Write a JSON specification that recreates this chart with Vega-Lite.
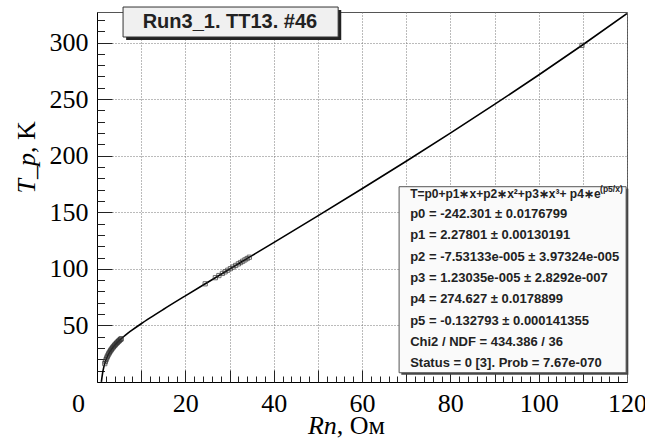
{
  "$schema": "https://vega.github.io/schema/vega-lite/v6.json",
  "width": 530,
  "height": 370,
  "autosize": {"type": "none"},
  "padding": {"left": 97, "top": 12, "right": 18, "bottom": 57},
  "background": "white",
  "config": {
    "view": {"stroke": "#555", "strokeWidth": 1},
    "axis": {"labelFont": "Liberation Serif", "labelFontSize": 26, "labelColor": "black", "domainColor": "black", "tickColor": "#222", "labelOverlap": false, "labelFlush": false}
  },
  "datasets": {
    "curve": [
      {"x": 0.99, "T": 0.1}, {"x": 1.25, "T": 7.49}, {"x": 1.5, "T": 12.48}, {"x": 1.75, "T": 16.24},
      {"x": 2, "T": 19.24}, {"x": 2.5, "T": 23.81}, {"x": 3, "T": 27.27}, {"x": 3.5, "T": 30.08},
      {"x": 4, "T": 32.47}, {"x": 4.5, "T": 34.59}, {"x": 5, "T": 36.52}, {"x": 6, "T": 39.98},
      {"x": 7, "T": 43.11}, {"x": 8, "T": 46.03}, {"x": 10, "T": 51.49}, {"x": 12, "T": 56.65},
      {"x": 15, "T": 64.10}, {"x": 20, "T": 76.14}, {"x": 25, "T": 87.97}, {"x": 30, "T": 99.72},
      {"x": 35, "T": 111.45}, {"x": 40, "T": 123.20}, {"x": 50, "T": 146.85}, {"x": 60, "T": 170.79},
      {"x": 70, "T": 195.12}, {"x": 80, "T": 219.93}, {"x": 90, "T": 245.30}, {"x": 100, "T": 271.31},
      {"x": 110, "T": 298.04}, {"x": 120, "T": 325.56}
    ],
    "points": [
      {"x": 1.75, "T": 16.24}, {"x": 1.9, "T": 18.12}, {"x": 2.05, "T": 19.77}, {"x": 2.2, "T": 21.25},
      {"x": 2.35, "T": 22.59}, {"x": 2.5, "T": 23.81}, {"x": 2.65, "T": 24.94}, {"x": 2.8, "T": 25.98},
      {"x": 2.95, "T": 26.96}, {"x": 3.1, "T": 27.87}, {"x": 3.25, "T": 28.74}, {"x": 3.4, "T": 29.55},
      {"x": 3.55, "T": 30.33}, {"x": 3.7, "T": 31.07}, {"x": 3.85, "T": 31.79}, {"x": 4.0, "T": 32.47},
      {"x": 4.15, "T": 33.13}, {"x": 4.3, "T": 33.77}, {"x": 4.45, "T": 34.39}, {"x": 4.6, "T": 34.99},
      {"x": 4.75, "T": 35.58}, {"x": 4.9, "T": 36.15}, {"x": 5.05, "T": 36.70}, {"x": 5.2, "T": 37.25},
      {"x": 5.35, "T": 37.78}, {"x": 5.5, "T": 38.30},
      {"x": 24.5, "T": 86.79}, {"x": 26.8, "T": 92.20}, {"x": 27.6, "T": 94.08}, {"x": 28.4, "T": 95.96},
      {"x": 29.0, "T": 97.37}, {"x": 29.6, "T": 98.78}, {"x": 30.2, "T": 100.19}, {"x": 30.8, "T": 101.60},
      {"x": 31.4, "T": 103.00}, {"x": 32.0, "T": 104.41}, {"x": 32.5, "T": 105.58}, {"x": 33.0, "T": 106.76},
      {"x": 33.5, "T": 107.93}, {"x": 34.0, "T": 109.11}, {"x": 34.5, "T": 110.28},
      {"x": 109.8, "T": 297.5}
    ],
    "titlebox": [{"t": "Run3_1. TT13. #46"}],
    "formula": [{"t": "T=p0+p1∗x+p2∗x²+p3∗x³+ p4∗e", "sup": "(p5/x)"}],
    "stats": [{"lines": ["p0 = -242.301 ± 0.0176799", "p1 = 2.27801 ± 0.00130191", "p2 = -7.53133e-005  ± 3.97324e-005", "p3 = 1.23035e-005  ± 2.8292e-007", "p4 = 274.627  ± 0.0178899", "p5 = -0.132793  ± 0.000141355", "Chi2 / NDF = 434.386 / 36", "Status = 0 [3]. Prob = 7.67e-070"]}],
    "xtitle": [{"a": "Rn", "b": ", Ом"}],
    "ytitle": [{"a": "T_p", "b": ", K"}]
  },
  "layer": [
    {
      "data": {"name": "curve"},
      "mark": {"type": "line", "color": "black", "strokeWidth": 1.6, "interpolate": "monotone", "clip": true},
      "encoding": {
        "x": {"field": "x", "type": "quantitative", "scale": {"domain": [0, 120], "nice": false, "zero": false},
          "axis": {"orient": "bottom", "title": null, "values": [0, 10, 20, 30, 40, 50, 60, 70, 80, 90, 100, 110, 120],
            "labelExpr": "datum.value % 20 === 0 ? datum.label : ''", "ticks": false, "grid": true, "gridDash": [1, 2], "gridColor": "#777", "gridWidth": 1,
            "labelPadding": 8, "labelOffset": {"condition": {"test": "datum.value === 0", "value": -19}, "value": 0}}},
        "y": {"field": "T", "type": "quantitative", "scale": {"domain": [0, 327], "nice": false, "zero": false},
          "axis": {"orient": "left", "title": null, "values": [0, 50, 100, 150, 200, 250, 300],
            "labelExpr": "datum.value === 0 ? '' : datum.label", "ticks": false, "grid": true, "gridDash": [1, 2], "gridColor": "#777", "gridWidth": 1,
            "labelPadding": 9}}
      }
    },
    {
      "data": {"name": "points"},
      "mark": {"type": "point", "shape": "square", "filled": false, "size": 18, "stroke": "#333", "strokeWidth": 1},
      "encoding": {
        "x": {"field": "x", "type": "quantitative", "scale": {"domain": [0, 120], "nice": false, "zero": false},
          "axis": {"orient": "bottom", "title": null, "values": [10, 20, 30, 40, 50, 60, 70, 80, 90, 100, 110], "labels": false, "grid": false, "domain": false, "ticks": true, "tickSize": 12, "offset": -12}},
        "y": {"field": "T", "type": "quantitative", "scale": {"domain": [0, 327], "nice": false, "zero": false},
          "axis": {"orient": "left", "title": null, "values": [50, 100, 150, 200, 250, 300], "labels": false, "grid": false, "domain": false, "ticks": true, "tickSize": 15, "offset": -15}}
      }
    },
    {
      "data": {"name": "titlebox"},
      "mark": {"type": "rect", "fill": "#222"},
      "encoding": {
        "x": {"datum": 6.6, "type": "quantitative", "axis": {"orient": "bottom", "title": null, "values": [2, 4, 6, 8, 12, 14, 16, 18, 22, 24, 26, 28, 32, 34, 36, 38, 42, 44, 46, 48, 52, 54, 56, 58, 62, 64, 66, 68, 72, 74, 76, 78, 82, 84, 86, 88, 92, 94, 96, 98, 102, 104, 106, 108, 112, 114, 116, 118], "labels": false, "grid": false, "domain": false, "ticks": true, "tickSize": 6, "offset": -6}},
        "x2": {"datum": 55.3},
        "y": {"datum": 328.8, "type": "quantitative", "axis": {"orient": "left", "title": null, "values": [10, 20, 30, 40, 60, 70, 80, 90, 110, 120, 130, 140, 160, 170, 180, 190, 210, 220, 230, 240, 260, 270, 280, 290, 310, 320], "labels": false, "grid": false, "domain": false, "ticks": true, "tickSize": 7.5, "offset": -7.5}},
        "y2": {"datum": 302.3}
      }
    },
    {
      "data": {"name": "titlebox"},
      "mark": {"type": "rect", "fill": "#f0f0f0", "stroke": "#333", "strokeWidth": 1},
      "encoding": {
        "x": {"datum": 5.9, "type": "quantitative", "axis": null},
        "x2": {"datum": 54.6},
        "y": {"datum": 331.4, "type": "quantitative", "axis": null},
        "y2": {"datum": 304.9}
      }
    },
    {
      "data": {"name": "titlebox"},
      "mark": {"type": "text", "font": "Liberation Sans", "fontWeight": "bold", "fontSize": 20, "color": "#222", "align": "center", "baseline": "middle"},
      "encoding": {
        "x": {"datum": 30.1, "type": "quantitative", "axis": null},
        "y": {"datum": 318.2, "type": "quantitative", "axis": null},
        "text": {"field": "t", "type": "nominal"}
      }
    },
    {
      "data": {"name": "titlebox"},
      "mark": {"type": "rect", "fill": "#444"},
      "encoding": {
        "x": {"datum": 68.9, "type": "quantitative", "axis": null},
        "x2": {"datum": 120.3},
        "y": {"datum": 170.8, "type": "quantitative", "axis": null},
        "y2": {"datum": 6.4}
      }
    },
    {
      "data": {"name": "titlebox"},
      "mark": {"type": "rect", "fill": "#fafafa", "stroke": "#555", "strokeWidth": 1},
      "encoding": {
        "x": {"datum": 68.4, "type": "quantitative", "axis": null},
        "x2": {"datum": 119.8},
        "y": {"datum": 172.6, "type": "quantitative", "axis": null},
        "y2": {"datum": 8.2}
      }
    },
    {
      "data": {"name": "formula"},
      "mark": {"type": "text", "font": "Liberation Sans", "fontWeight": "bold", "fontSize": 12, "color": "#222", "align": "left", "baseline": "alphabetic"},
      "encoding": {
        "x": {"datum": 70.9, "type": "quantitative", "axis": null},
        "y": {"datum": 162.2, "type": "quantitative", "axis": null},
        "text": {"field": "t", "type": "nominal"}
      }
    },
    {
      "data": {"name": "formula"},
      "mark": {"type": "text", "font": "Liberation Sans", "fontWeight": "bold", "fontSize": 8.5, "color": "#222", "align": "left", "baseline": "alphabetic"},
      "encoding": {
        "x": {"datum": 113.9, "type": "quantitative", "axis": null},
        "y": {"datum": 167.9, "type": "quantitative", "axis": null},
        "text": {"field": "sup", "type": "nominal"}
      }
    },
    {
      "data": {"name": "stats"},
      "mark": {"type": "text", "font": "Liberation Sans", "fontWeight": "bold", "fontSize": 13, "color": "#222", "align": "left", "baseline": "alphabetic", "lineHeight": 21.3},
      "encoding": {
        "x": {"datum": 70.9, "type": "quantitative", "axis": null},
        "y": {"datum": 144.9, "type": "quantitative", "axis": null},
        "text": {"field": "lines", "type": "nominal"}
      }
    },
    {
      "data": {"name": "xtitle"},
      "mark": {"type": "text", "font": "Liberation Serif", "fontStyle": "italic", "fontSize": 26, "color": "black", "align": "right", "baseline": "alphabetic"},
      "encoding": {
        "x": {"datum": 54.3, "type": "quantitative", "axis": null},
        "y": {"datum": -46.0, "type": "quantitative", "axis": null},
        "text": {"field": "a", "type": "nominal"}
      }
    },
    {
      "data": {"name": "xtitle"},
      "mark": {"type": "text", "font": "Liberation Serif", "fontSize": 26, "color": "black", "align": "left", "baseline": "alphabetic"},
      "encoding": {
        "x": {"datum": 54.3, "type": "quantitative", "axis": null},
        "y": {"datum": -46.0, "type": "quantitative", "axis": null},
        "text": {"field": "b", "type": "nominal"}
      }
    },
    {
      "data": {"name": "ytitle"},
      "mark": {"type": "text", "font": "Liberation Serif", "fontStyle": "italic", "fontSize": 26, "color": "black", "align": "right", "baseline": "alphabetic", "angle": 270},
      "encoding": {
        "x": {"datum": -14.0, "type": "quantitative", "axis": null},
        "y": {"datum": 202.4, "type": "quantitative", "axis": null},
        "text": {"field": "a", "type": "nominal"}
      }
    },
    {
      "data": {"name": "ytitle"},
      "mark": {"type": "text", "font": "Liberation Serif", "fontSize": 26, "color": "black", "align": "left", "baseline": "alphabetic", "angle": 270},
      "encoding": {
        "x": {"datum": -14.0, "type": "quantitative", "axis": null},
        "y": {"datum": 202.4, "type": "quantitative", "axis": null},
        "text": {"field": "b", "type": "nominal"}
      }
    }
  ],
  "resolve": {"axis": {"x": "independent", "y": "independent"}}
}
